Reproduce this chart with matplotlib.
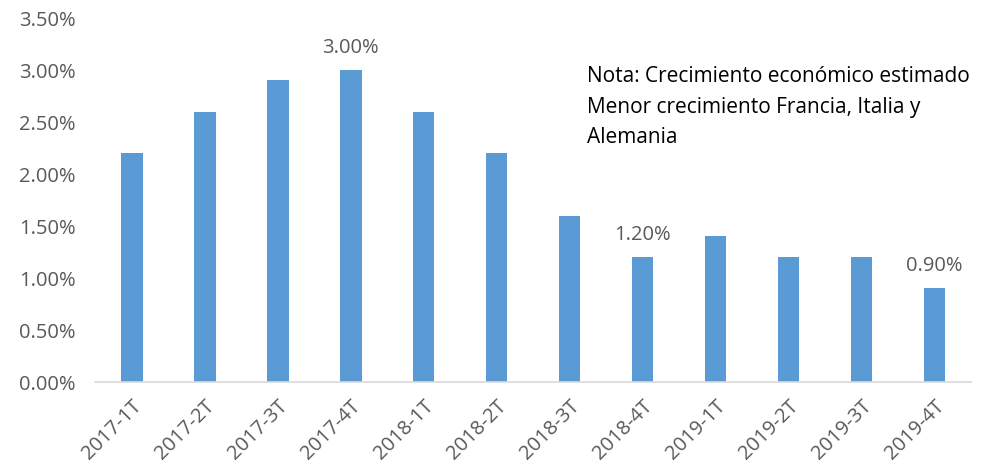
import matplotlib.pyplot as plt
from matplotlib.ticker import PercentFormatter

quarters = ['2017-1T', '2017-2T', '2017-3T', '2017-4T', '2018-1T', '2018-2T',
            '2018-3T', '2018-4T', '2019-1T', '2019-2T', '2019-3T', '2019-4T']
growth = [2.2, 2.6, 2.9, 3.0, 2.6, 2.2, 1.6, 1.2, 1.4, 1.2, 1.2, 0.9]
labelled = ['2017-4T', '2018-4T', '2019-4T']
note = 'Nota: Crecimiento económico estimado\nMenor crecimiento Francia, Italia y\nAlemania'

plt.rcParams['font.family'] = ['Open Sans', 'DejaVu Sans']
grey = '#595959'

fig = plt.figure(figsize=(10.01, 4.74), dpi=100)
ax = fig.add_axes([0.095, 0.194, 0.875, 0.768])

x = range(len(quarters))
bars = ax.bar(x, growth, width=0.30, color='#5B9BD5')

for i, q in enumerate(quarters):
    if q in labelled:
        ax.annotate(f'{growth[i]:.2f}%', (i, growth[i]), xytext=(0, 9),
                    textcoords='offset points', ha='center', va='bottom',
                    fontsize=14.5, color=grey)

ax.set_xlim(-0.5, len(quarters) - 0.5)
ax.set_ylim(0, 3.5)
ax.set_yticks([0, 0.5, 1.0, 1.5, 2.0, 2.5, 3.0, 3.5])
ax.yaxis.set_major_formatter(PercentFormatter(decimals=2))
ax.set_xticks(list(x))
ax.set_xticklabels(quarters, rotation=45, ha='right', rotation_mode='anchor')
ax.tick_params(axis='both', length=0, labelsize=14.5, colors=grey)
ax.tick_params(axis='x', pad=10)
ax.tick_params(axis='y', pad=14)

for side in ['top', 'right', 'left']:
    ax.spines[side].set_visible(False)
ax.spines['bottom'].set_color('#D9D9D9')
ax.spines['bottom'].set_linewidth(1.2)

ax.text(0.562, 0.868, note, transform=ax.transAxes, fontsize=15,
        color='black', va='top', ha='left', linespacing=1.6)

fig.savefig('out.png', dpi=100)
